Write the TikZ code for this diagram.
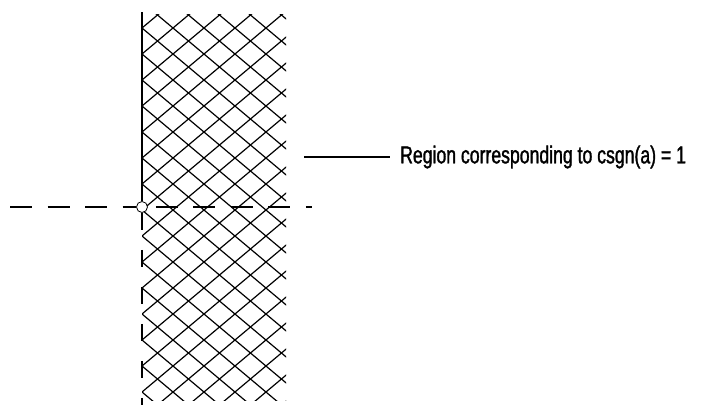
\documentclass[tikz,border=0pt]{standalone}
\usepackage{fontspec}
\newfontfamily\labelfont[FakeStretch=0.72,FakeBold=1.3]{Liberation Sans}
\begin{document}
\begin{tikzpicture}[x=1pt,y=-1pt,
  axis/.style={line width=1.8pt},
  dashaxis/.style={line width=1.8pt,dash pattern=on 22pt off 15.5pt},
  hatch/.style={line width=1.2pt},
  leader/.style={line width=1.3pt},
  labeltext/.style={font=\labelfont\fontsize{24.5}{28}\selectfont,anchor=west,inner sep=0pt}]
\useasboundingbox (0,0) rectangle (701,405);
% hatch
\begin{scope}
\clip (142,14) rectangle (286,400);
\foreach \k in {-7,...,22} {
  \draw[hatch] (142,28+26*\k) -- (300,28+26*\k+0.839*158);
  \draw[hatch] (142,28+26*\k) -- (300,28+26*\k-0.839*158);
}
\end{scope}
% axes
\coordinate (top) at (142,12);
\coordinate (bot) at (142,405);
\coordinate (left) at (10,207);
\coordinate (right) at (312,207);
\node[circle,draw,fill=white,line width=0.8pt,inner sep=0pt,minimum width=11pt,minimum height=10pt] (o) at (142,207) {};
\draw[axis] (top) -- (o.north);
\draw[axis,dash pattern=on 17pt off 20pt] (o.south) -- (bot);
\draw[dashaxis] (left) -- (o.west);
\draw[dashaxis,dash phase=-8pt] (o.east) -- (right);
% label
\node[labeltext] (lab) at (400,157) {Region corresponding to csgn(a) = 1};
\coordinate (ls) at (304,157);
\draw[leader] (ls) -- ([xshift=-10pt]lab.west);
\end{tikzpicture}
\end{document}
